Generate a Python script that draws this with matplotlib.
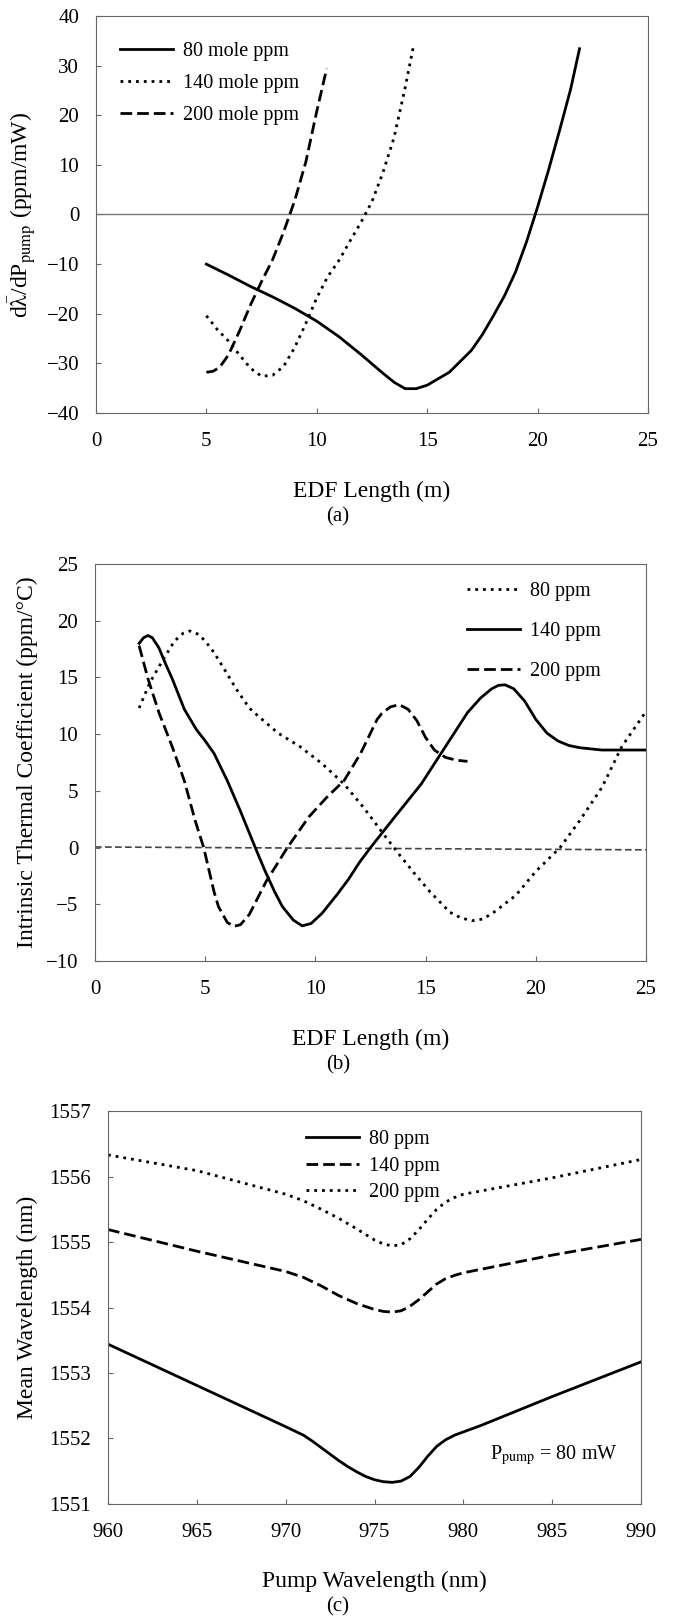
import matplotlib
matplotlib.use("Agg")
import matplotlib.pyplot as plt

plt.rcParams['font.family'] = 'serif'
plt.rcParams['font.serif'] = ['Liberation Serif', 'DejaVu Serif']
plt.rcParams['mathtext.fontset'] = 'stix'
plt.rcParams['lines.solid_joinstyle'] = 'round'
plt.rcParams['lines.dash_joinstyle'] = 'round'

# ---- (a) d(lambda)/dP_pump vs EDF length ----
a_x80 = [5, 6, 7, 8, 9, 10, 11, 12, 13, 13.5, 14, 14.5, 15, 16, 17, 17.5, 18, 18.5, 19, 19.5, 20, 20.5, 21, 21.5, 21.9]
a_y80 = [-10, -12.2, -14.5, -16.6, -18.9, -21.5, -24.6, -28.2, -32, -33.8, -35.1, -35.1, -34.4, -31.8, -27.4, -24.2, -20.4, -16.4, -11.6, -5.5, 1.5, 9.0, 17.0, 25.3, 33.4]
a_x140 = [5, 5.5, 6, 6.5, 7, 7.5, 8, 8.5, 9, 9.5, 10, 10.5, 11, 11.5, 12, 12.5, 13, 13.5, 14, 14.4]
a_y140 = [-20.4, -23.2, -25.5, -28.3, -31, -32.6, -32.4, -30.6, -26.8, -22, -16.8, -12.5, -9.3, -5.4, -1.6, 2.6, 8.5, 15.5, 25.5, 34.4]
a_x200 = [5, 5.3, 5.6, 6, 6.5, 7, 7.5, 8, 8.5, 9, 9.5, 10, 10.45]
a_y200 = [-31.8, -31.6, -30.8, -28.3, -23.5, -18.2, -13.5, -9.1, -3.5, 2.8, 10.5, 20.8, 29.4]

# ---- (b) intrinsic thermal coefficient ----
b_x80 = [2, 2.5, 3.1, 3.6, 4.0, 4.3, 4.7, 5, 5.4, 6, 6.4, 7, 7.4, 8.3, 9.3, 10.3, 11.3, 12.2, 13.2, 13.8, 14.5, 15.2, 16.1, 16.6, 17.1, 17.6, 18.1, 19.1, 20, 21.1, 22, 23, 23.9, 25]
b_y80 = [12.3, 14.6, 16.6, 18.2, 18.9, 19.1, 18.8, 18.2, 17.2, 15.3, 14.0, 12.3, 11.6, 10.1, 8.9, 7.4, 5.6, 3.5, 0.9, -0.6, -2.3, -3.9, -5.7, -6.2, -6.45, -6.3, -5.7, -4.2, -2.1, 0, 2.4, 5.3, 8.9, 12.0]
b_x140 = [2, 2.2, 2.4, 2.6, 2.9, 3.2, 3.5, 4.05, 4.6, 5, 5.4, 6, 6.6, 7.27, 7.7, 8.15, 8.5, 9, 9.4, 9.8, 10.3, 11, 11.5, 12, 12.5, 13.6, 14.8, 15.9, 16.9, 17.5, 18, 18.3, 18.6, 19, 19.5, 20, 20.5, 21, 21.5, 22, 23, 25]
b_y140 = [18, 18.5, 18.7, 18.5, 17.6, 16.2, 14.9, 12.2, 10.4, 9.4, 8.3, 5.9, 3.2, 0, -2.0, -3.9, -5.2, -6.4, -6.9, -6.7, -5.8, -4.1, -2.8, -1.3, 0, 2.7, 5.6, 8.9, 11.9, 13.2, 14.0, 14.3, 14.35, 14.0, 12.9, 11.3, 10.1, 9.4, 9.0, 8.8, 8.6, 8.6]
b_x200 = [2, 2.4, 2.9, 3.5, 4.05, 4.54, 4.93, 5.4, 5.6, 6.0, 6.3, 6.6, 7.0, 7.76, 8.73, 9.7, 10.5, 11.3, 12.05, 12.8, 13.0, 13.4, 13.8, 14.2, 14.6, 15.0, 15.4, 15.9, 16.4, 16.9]
b_y200 = [17.8, 14.9, 11.9, 8.9, 5.9, 2.4, 0, -3.9, -5.2, -6.6, -6.95, -6.8, -5.9, -3.0, 0, 2.7, 4.4, 5.9, 8.3, 11.3, 11.8, 12.4, 12.6, 12.2, 11.2, 9.7, 8.6, 7.95, 7.7, 7.6]
b_zero_x = [0, 25]
b_zero_y = [0.05, -0.2]

# ---- (c) mean wavelength vs pump wavelength ----
c_x80 = [960, 965, 970, 971, 971.5, 972, 972.5, 973, 973.5, 974, 974.5, 975, 975.5, 976, 976.5, 977, 977.5, 978, 978.5, 979, 979.5, 980, 981, 985, 990]
c_y80 = [1553.44, 1552.81, 1552.18, 1552.05, 1551.96, 1551.86, 1551.76, 1551.66, 1551.57, 1551.49, 1551.42, 1551.37, 1551.34, 1551.33, 1551.35, 1551.42, 1551.56, 1551.73, 1551.88, 1551.98, 1552.05, 1552.10, 1552.20, 1552.64, 1553.17]
c_x140 = [960, 965, 970, 971, 972, 973, 974, 975, 975.5, 976, 976.5, 977, 977.5, 978, 978.5, 979, 979.5, 980, 985, 990]
c_y140 = [1555.19, 1554.86, 1554.55, 1554.46, 1554.33, 1554.18, 1554.06, 1553.97, 1553.94, 1553.93, 1553.95, 1554.02, 1554.12, 1554.24, 1554.36, 1554.44, 1554.49, 1554.53, 1554.80, 1555.04]
c_x200 = [960, 965, 970, 971, 972, 973, 974, 975, 975.5, 976, 976.5, 977, 977.5, 978, 978.5, 979, 979.5, 980, 985, 990]
c_y200 = [1556.33, 1556.09, 1555.73, 1555.63, 1555.50, 1555.36, 1555.20, 1555.03, 1554.97, 1554.94, 1554.96, 1555.05, 1555.19, 1555.35, 1555.50, 1555.61, 1555.68, 1555.73, 1555.98, 1556.26]

DOT = (1.0, 1.8)
DASH = (4.2, 1.8)
LW = 2.0
FS_TICK = 15
FS_LAB = 17
FS_LEG = 14.5

fig = plt.figure(figsize=(6.73, 16.17), dpi=100)
ax1 = fig.add_axes([0.1426, 0.7446, 0.8202, 0.2455])
ax2 = fig.add_axes([0.1412, 0.4057, 0.8187, 0.2455])
ax3 = fig.add_axes([0.1605, 0.0699, 0.7920, 0.2430])

def style(ax):
    for s in ax.spines.values():
        s.set_linewidth(0.8)
        s.set_color('#666666')
    ax.tick_params(axis='both', direction='in', length=3.5, width=0.8, color='#666666',
                   labelsize=FS_TICK)
    ax.tick_params(axis='x', pad=14)
    ax.tick_params(axis='y', pad=12)

# (a)
ax1.axhline(0, color='#777777', lw=1.0)
ax1.plot(a_x80, a_y80, 'k-', lw=LW, label='80 mole ppm')
ax1.plot(a_x140, a_y140, 'k', lw=LW, dashes=DOT, label='140 mole ppm')
ax1.plot(a_x200, a_y200, 'k', lw=LW, dashes=DASH, label='200 mole ppm')
ax1.set_xlim(0, 25)
ax1.set_ylim(-40, 40)
ax1.set_xticks(range(0, 26, 5))
ax1.set_yticks(range(-40, 41, 10))
style(ax1)
ax1.set_xlabel('EDF Length (m)', fontsize=FS_LAB)
ax1.set_ylabel(r'd$\bar{\mathrm{\lambda}}$/dP$_{\mathrm{pump}}$ (ppm/mW)', fontsize=FS_LAB)
ax1.xaxis.set_label_coords(0.5, -0.17)
ax1.yaxis.set_label_coords(-0.105, 0.5)
ax1.legend(loc='upper left', bbox_to_anchor=(0.0435, 0.935), frameon=False, fontsize=FS_LEG,
           borderpad=0, borderaxespad=0, handlelength=2.64, handletextpad=0.5, labelspacing=0.65)

# (b)
ax2.plot(b_zero_x, b_zero_y, color='#444444', lw=1.2, dashes=(4, 2))
ax2.plot(b_x80, b_y80, 'k', lw=LW, dashes=DOT, label='80 ppm')
ax2.plot(b_x140, b_y140, 'k-', lw=LW, label='140 ppm')
ax2.plot(b_x200, b_y200, 'k', lw=LW, dashes=DASH, label='200 ppm')
ax2.set_xlim(0, 25)
ax2.set_ylim(-10, 25)
ax2.set_xticks(range(0, 26, 5))
ax2.set_yticks(range(-10, 26, 5))
style(ax2)
ax2.set_xlabel('EDF Length (m)', fontsize=FS_LAB)
ax2.set_ylabel('Intrinsic Thermal Coefficient (ppm/°C)', fontsize=FS_LAB)
ax2.xaxis.set_label_coords(0.5, -0.17)
ax2.yaxis.set_label_coords(-0.1034, 0.5)
ax2.legend(loc='upper left', bbox_to_anchor=(0.675, 0.955), frameon=False, fontsize=FS_LEG,
           borderpad=0, borderaxespad=0, handlelength=2.64, handletextpad=0.5, labelspacing=1.03)

# (c)
ax3.plot(c_x80, c_y80, 'k-', lw=LW, label='80 ppm')
ax3.plot(c_x140, c_y140, 'k', lw=LW, dashes=DASH, label='140 ppm')
ax3.plot(c_x200, c_y200, 'k', lw=LW, dashes=DOT, label='200 ppm')
ax3.set_xlim(960, 990)
ax3.set_ylim(1551, 1557)
ax3.set_xticks(range(960, 991, 5))
ax3.set_yticks(range(1551, 1558))
style(ax3)
ax3.set_xlabel('Pump Wavelength (nm)', fontsize=FS_LAB)
ax3.set_ylabel('Mean Wavelength (nm)', fontsize=FS_LAB)
ax3.xaxis.set_label_coords(0.5, -0.17)
ax3.yaxis.set_label_coords(-0.131, 0.5)
ax3.legend(loc='upper left', bbox_to_anchor=(0.371, 0.952), frameon=False, fontsize=FS_LEG,
           borderpad=0, borderaxespad=0, handlelength=2.64, handletextpad=0.5, labelspacing=0.38)
ax3.text(981.5, 1551.74, r'P$_{\mathrm{pump}}$ = 80 mW', fontsize=FS_LEG, ha='left', va='center')

fig.text(0.502, 1 - 517 / 1617, '(a)', ha='center', va='center', fontsize=15)
fig.text(0.502, 1 - 1065 / 1617, '(b)', ha='center', va='center', fontsize=15)
fig.text(0.502, 1 - 1607 / 1617, '(c)', ha='center', va='center', fontsize=15)

fig.savefig('out.png', dpi=100)
